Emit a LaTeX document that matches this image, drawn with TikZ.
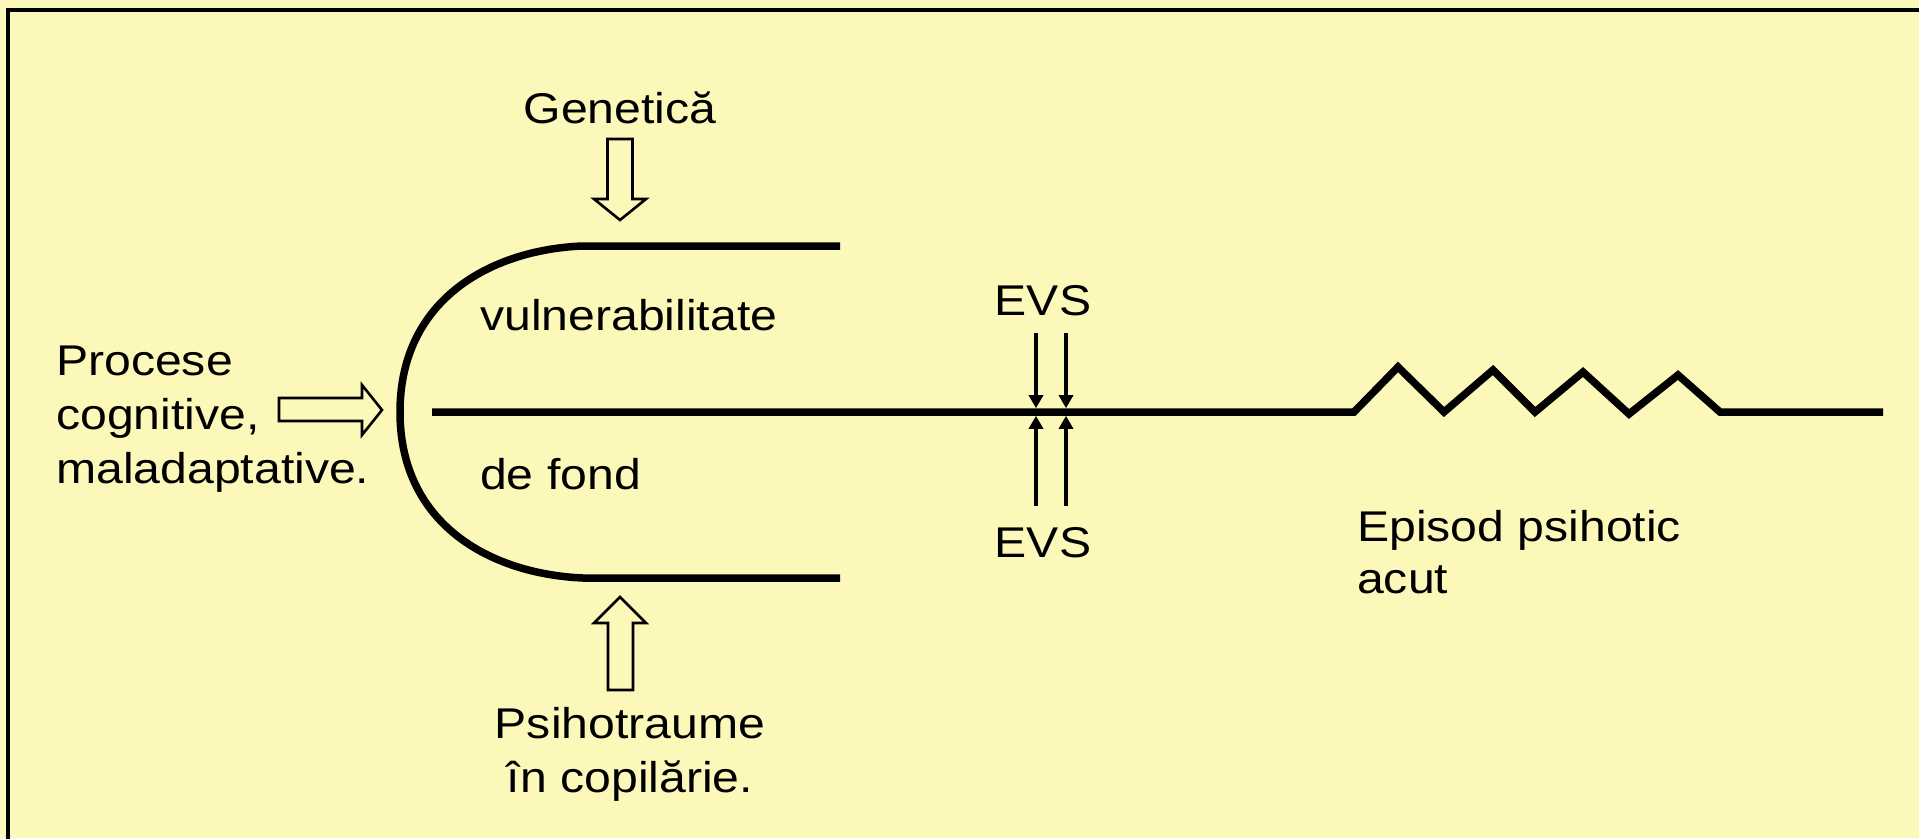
\documentclass[tikz,border=0pt]{standalone}
\usepackage{fontspec}
\setmainfont{Liberation Sans}
\newfontfamily\labfont[FakeStretch=1.12]{Liberation Sans}
\usetikzlibrary{arrows.meta}
\definecolor{bgyellow}{RGB}{252,248,185}
\tikzset{
  lbl/.style={font=\labfont\fontsize{43}{52}\selectfont, inner sep=0pt, text=black},
  thickline/.style={line width=7.5pt, line cap=butt},
  blockarrow/.style={draw=black, line width=2.6pt, fill=bgyellow, line join=miter},
  evsarrow/.style={line width=3.5pt, -{Triangle[length=13pt,width=14pt]}},
  frameline/.style={line width=4pt}
}
\begin{document}
\begin{tikzpicture}[x=1pt,y=-1pt]
\useasboundingbox (0,0) rectangle (1919,838);
\fill[bgyellow] (0,0) rectangle (1919,838);
\begin{scope}
\clip (0,0) rectangle (1919,838);
\draw[frameline] (8,860) -- (8,9.5) -- (1940,9.5);
\end{scope}

% labels
\node[lbl, anchor=base] (gen) at (620,123) {Genetică};
\node[lbl, anchor=base west] (vuln) at (480,330) {vulnerabilitate};
\node[lbl, anchor=base west] (fond) at (480,489) {de fond};
\node[lbl, anchor=base west] (proc) at (56,375)
  {\vtop{\baselineskip=54pt\halign{#\hfil\cr Procese\cr cognitive,\cr maladaptative.\cr}}};
\node[lbl, anchor=base] (psi) at (630,738)
  {\vtop{\baselineskip=54pt\halign{\hfil#\hfil\cr Psihotraume\cr în copilărie.\cr}}};
\node[lbl, anchor=base west] (epi) at (1357,541)
  {\vtop{\baselineskip=52pt\halign{#\hfil\cr Episod psihotic\cr acut\cr}}};
\node[lbl, anchor=base] (evsT) at (1043,315) {EVS};
\node[lbl, anchor=base] (evsB) at (1043,557) {EVS};

% vulnerability bracket
\coordinate (topR) at (840,246);
\coordinate (topL) at (582,246);
\coordinate (botL) at (583,578);
\coordinate (botR) at (840,578);
\coordinate (leftmost) at (400,412);
\draw[thickline] (topR) -- (topL)
  .. controls (490,250) and (400,300) .. (leftmost)
  .. controls (400,524) and (490,574) .. (botL) -- (botR);

% main time line with zigzag
\coordinate (m0) at (432,412);
\coordinate (z0) at (1354,412);
\coordinate (zE) at (1720,412);
\coordinate (m1) at (1883,412);
\draw[thickline, line join=miter] (m0) -- (z0) -- (1398,367) -- (1444,412) -- (1493,370)
  -- (1535,412) -- (1583,372) -- (1629,414) -- (1678,375) -- (zE) -- (m1);

% EVS arrows
\coordinate (eT1) at (1036,333);
\coordinate (eT2) at (1066,333);
\coordinate (eL1a) at (1036,408.2);
\coordinate (eL2a) at (1066,408.2);
\coordinate (eB1) at (1036,506);
\coordinate (eB2) at (1066,506);
\coordinate (eL1b) at (1036,415.8);
\coordinate (eL2b) at (1066,415.8);
\draw[evsarrow] (eT1) -- (eL1a);
\draw[evsarrow] (eT2) -- (eL2a);
\draw[evsarrow] (eB1) -- (eL1b);
\draw[evsarrow] (eB2) -- (eL2b);

% block arrows
\draw[blockarrow] (607.5,139) -- (632.5,139) -- (632.5,199) -- (646,199) -- (620,220)
  -- (594,199) -- (607.5,199) -- cycle;
\draw[blockarrow] (608,690) -- (633,690) -- (633,623) -- (646,623) -- (620,597)
  -- (594,623) -- (608,623) -- cycle;
\draw[blockarrow] (279,398) -- (362,398) -- (362,385) -- (382,410) -- (362,435)
  -- (362,421) -- (279,421) -- cycle;
\end{tikzpicture}
\end{document}
